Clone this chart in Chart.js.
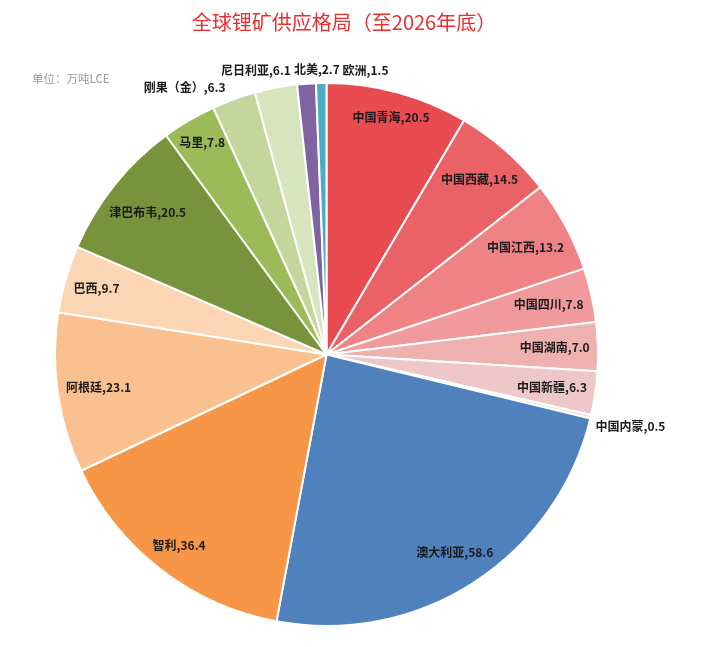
<!DOCTYPE html>
<html><head><meta charset="utf-8">
<script src="https://cdn.jsdelivr.net/npm/chart.js@4.4.0/dist/chart.umd.min.js"></script>
<style>html,body{margin:0;padding:0;background:#fff;overflow:hidden}#wrap{width:704px;height:647px;position:relative}</style>
</head><body><div id="wrap"><canvas id="c"></canvas></div>
<script>
const categories = ['中国青海','中国西藏','中国江西','中国四川','中国湖南','中国新疆','中国内蒙','澳大利亚','智利','阿根廷','巴西','津巴布韦','马里','刚果（金）','尼日利亚','北美','欧洲'];
const values = [20.5,14.5,13.2,7.8,7.0,6.3,0.5,58.6,36.4,23.1,9.7,20.5,7.8,6.3,6.1,2.7,1.5];
const colors = ['#E84C50','#EB6266','#EE8285','#F09A9B','#EFB0B0','#EEC8C8','#F2DCDB','#4F81BD','#F79646','#FAC090','#FCD5B5','#77933C','#9BBB59','#C3D69B','#D7E4BD','#8064A2','#4BACC6'];
const titleText = '全球锂矿供应格局（至2026年底）';
const unitText = '单位：万吨LCE';

const FONT_CJK = '"Noto Sans CJK SC","Noto Sans",sans-serif';

const textPlugin = {
  id: 'texts',
  afterDraw(chart) {
    const ctx = chart.ctx;
    ctx.save();
    ctx.font = '20px ' + FONT_CJK;
    ctx.fillStyle = '#E8302F';
    ctx.textAlign = 'center';
    ctx.textBaseline = 'middle';
    ctx.fillText(titleText, 344, 22);
    ctx.font = '11.5px ' + FONT_CJK;
    ctx.fillStyle = '#999999';
    ctx.textAlign = 'left';
    ctx.fillText(unitText, 32, 79);
    ctx.restore();
  }
};

const labelPlugin = {
  id: 'sliceLabels',
  afterDatasetsDraw(chart) {
    const ctx = chart.ctx;
    const meta = chart.getDatasetMeta(0);
    ctx.save();
    ctx.font = 'bold 12px ' + FONT_CJK;
    ctx.fillStyle = '#1a1a1a';
    ctx.textAlign = 'center';
    ctx.textBaseline = 'middle';
    const h = 15, padIn = 8, padOut = 5;
    const items = meta.data.map((arc, i) => {
      const p = arc.getProps(['x','y','startAngle','endAngle','outerRadius'], true);
      const text = categories[i] + ',' + values[i].toFixed(1);
      const w = ctx.measureText(text).width;
      const mid = (p.startAngle + p.endAngle) / 2;
      const span = p.endAngle - p.startAngle;
      const ux = Math.cos(mid), uy = Math.sin(mid);
      const proj = Math.abs(ux) * w / 2 + Math.abs(uy) * h / 2;
      const dIn = p.outerRadius - padIn - proj;
      const extent = Math.abs(uy) * w + Math.abs(ux) * h;
      const inside = span * dIn >= 0.8 * extent;
      return {text, w, mid, inside, cx: p.x, cy: p.y, R: p.outerRadius, ang: mid};
    });
    const place = (it) => {
      const ux = Math.cos(it.ang), uy = Math.sin(it.ang);
      const proj = Math.abs(ux) * it.w / 2 + Math.abs(uy) * h / 2;
      const d = it.inside ? it.R - padIn - proj : it.R + padOut + proj;
      it.x = it.cx + ux * d; it.y = it.cy + uy * d;
    };
    items.forEach(place);
    const outs = items.filter(it => !it.inside).sort((a, b) => a.mid - b.mid);
    for (let iter = 0; iter < 300; iter++) {
      let moved = false;
      for (let k = 0; k < outs.length - 1; k++) {
        const a = outs[k], b = outs[k + 1];
        const ox = Math.abs(a.x - b.x) < (a.w + b.w) / 2 + 2;
        const oy = Math.abs(a.y - b.y) < h + 1;
        if (ox && oy) {
          a.ang -= 0.004; b.ang += 0.004;
          place(a); place(b); moved = true;
        }
      }
      if (!moved) break;
    }
    items.forEach(it => ctx.fillText(it.text, it.x, it.y));
    ctx.restore();
  }
};

new Chart(document.getElementById('c'), {
  type: 'pie',
  data: {
    labels: categories,
    datasets: [{ data: values, backgroundColor: colors, borderColor: '#ffffff', borderWidth: 2 }]
  },
  options: {
    responsive: true,
    maintainAspectRatio: false,
    animation: false,
    devicePixelRatio: 1,
    layout: { padding: { left: 54, right: 105, top: 82, bottom: 20 } },
    plugins: { legend: { display: false }, tooltip: { enabled: false }, title: { display: false } }
  },
  plugins: [labelPlugin, textPlugin]
});
</script></body></html>
